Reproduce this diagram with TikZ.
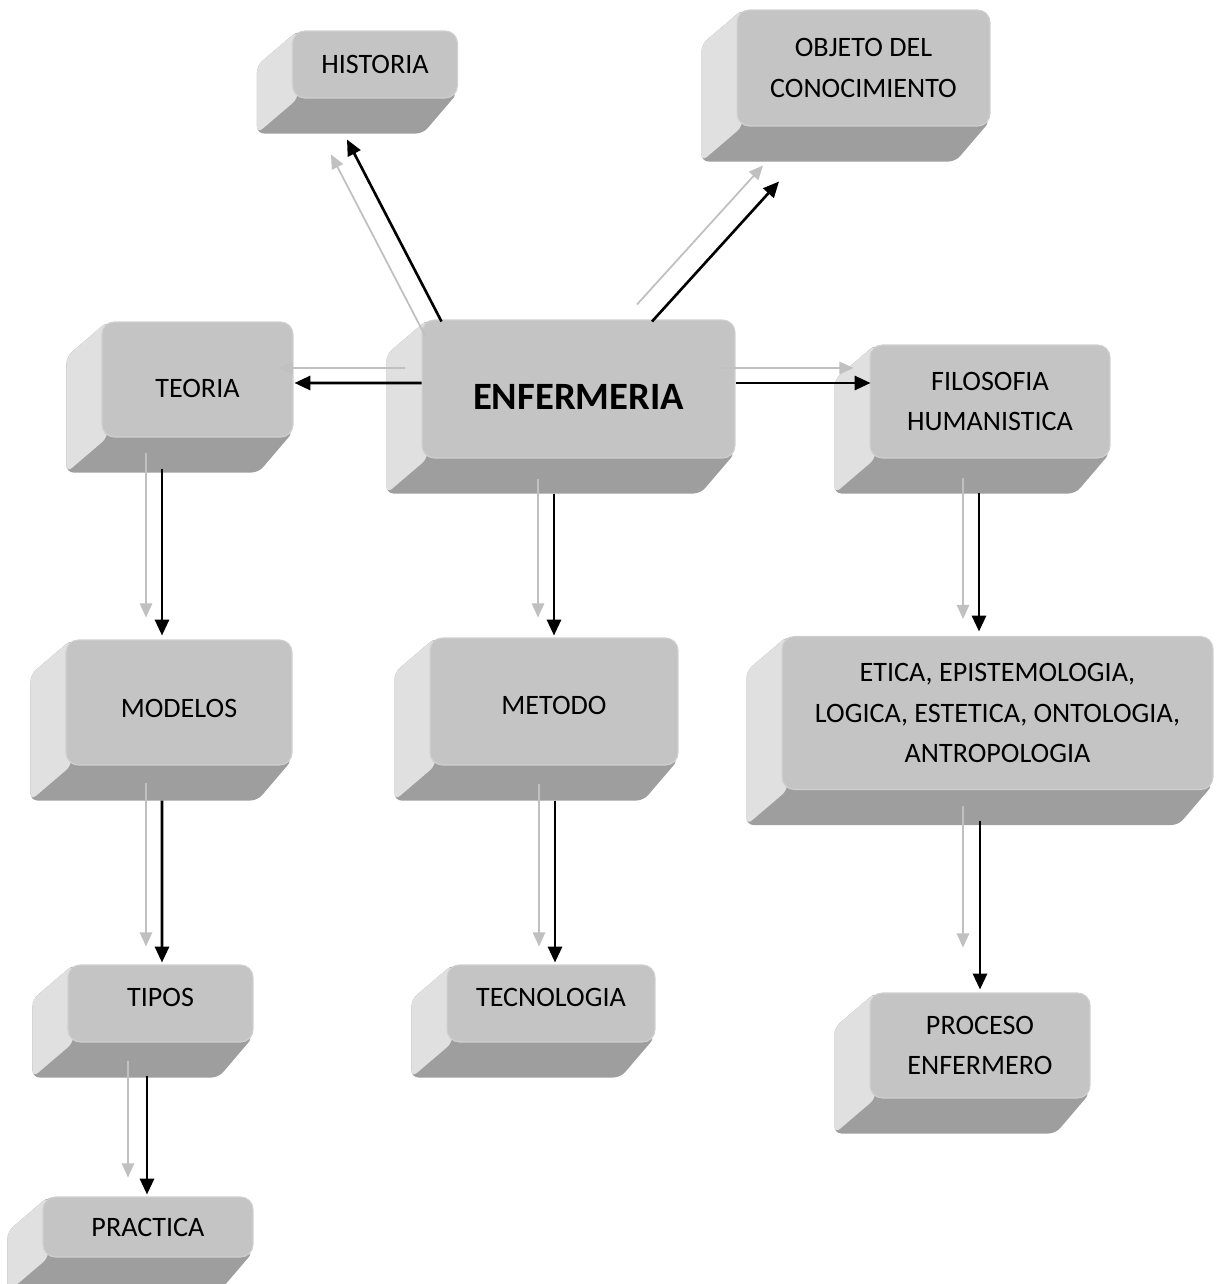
\documentclass[tikz,border=0pt]{standalone}
\usepackage{fontspec}
\setmainfont{Carlito}
\usepackage{tikz}
\usetikzlibrary{positioning, arrows.meta, backgrounds, calc}

\definecolor{cara}{HTML}{C4C4C4}
\definecolor{borde}{HTML}{D0D0D0}
\definecolor{ladoclaro}{HTML}{E0E0E0}
\definecolor{ladobajo}{HTML}{9E9E9E}
\definecolor{grisflecha}{HTML}{C0C0C0}

\begin{document}
\begin{tikzpicture}[
  x=0.02cm, y=-0.02cm,
  font=\fontsize{16}{23}\selectfont,
  tecla/.style={draw=borde, line width=0.6pt, fill=cara, rounded corners=7pt, align=center, inner sep=0pt},
  bajar/.style={text height=#1, text depth=0pt},
  subir/.style={text height=10.1pt, text depth=#1},
  caraizq/.style={fill=ladoclaro, rounded corners=4pt},
  carabase/.style={fill=ladobajo, rounded corners=4pt},
  arr/.style={-{Triangle[length=9pt, width=8pt]}, line width=1.5pt, black},
  arrgris/.style={-{Triangle[length=8pt, width=7pt]}, line width=1pt, grisflecha}
]
  \useasboundingbox (0,0) rectangle (1222,1284);

  % Nodo central
  \node[tecla, bajar=22.9pt, minimum width=6.26cm, minimum height=2.76cm, font=\fontsize{22}{26}\selectfont\bfseries]
    (enfermeria) at (578.5, 389) {ENFERMERIA};

  % Fila superior
  \node[tecla, minimum width=3.3cm, minimum height=1.34cm] (historia) at (375, 64.5) {HISTORIA};
  \node[tecla, minimum width=5.06cm, minimum height=2.32cm] (objeto) at (863.5, 68)
    {OBJETO DEL\\CONOCIMIENTO};

  % A los lados
  \node[tecla, bajar=20.3pt, minimum width=3.82cm, minimum height=2.3cm] (teoria) at (197.5, 379.5) {TEORIA};
  \node[tecla, minimum width=4.8cm, minimum height=2.26cm] (filosofia) at (990, 401.5)
    {FILOSOFIA\\HUMANISTICA};

  % Segunda fila
  \node[tecla, bajar=16.9pt, minimum width=4.52cm, minimum height=2.5cm] (modelos) at (179, 702.5) {MODELOS};
  \node[tecla, bajar=14.7pt, minimum width=4.96cm, minimum height=2.54cm] (metodo) at (554, 701.5) {METODO};
  \node[tecla, minimum width=8.62cm, minimum height=3.06cm] (etica) at (997.5, 713)
    {ETICA, EPISTEMOLOGIA,\\LOGICA, ESTETICA, ONTOLOGIA,\\ANTROPOLOGIA};

  % Tercera fila
  \node[tecla, subir=6.8pt, minimum width=3.7cm, minimum height=1.54cm] (tipos) at (160.5, 1003.5) {TIPOS};
  \node[tecla, subir=6.8pt, minimum width=4.16cm, minimum height=1.54cm] (tecnologia) at (551, 1003.5) {TECNOLOGIA};
  \node[tecla, minimum width=4.4cm, minimum height=2.1cm] (proceso) at (980, 1045.5)
    {PROCESO\\ENFERMERO};

  % Abajo
  \node[tecla, minimum width=4.2cm, minimum height=1.2cm] (practica) at (148, 1227) {PRACTICA};

  % Relieve de las teclas
  \begin{scope}[on background layer]
    \fill[white] (0,0) rectangle (1222,1284);
    \foreach \n in {historia, objeto, teoria, enfermeria, filosofia, modelos, metodo, etica,
                    tipos, tecnologia, proceso, practica} {
      \fill[carabase] ([shift={(6,0)}]\n.north west) -- ([shift={(-35,35)}]\n.north west)
        -- ([shift={(-35,35)}]\n.south west) -- ([shift={(-35,35)}]\n.south east)
        -- ([shift={(0,-6)}]\n.south east) -- cycle;
      \fill[caraizq] ([shift={(6,0)}]\n.north west) -- ([shift={(-35,35)}]\n.north west)
        -- ([shift={(-35,35)}]\n.south west) -- ([shift={(6,0)}]\n.south west) -- cycle;
    }
  \end{scope}

  % Flechas grises
  \draw[arrgris] ([shift={(4,17)}]enfermeria.north west) -- ([shift={(-44,56)}]historia.south);
  \draw[arrgris] ([shift={(58.5,-15)}]enfermeria.north) -- ([shift={(-100.5,39)}]objeto.south);
  \draw[arrgris] ([shift={(-17,-21)}]enfermeria.west) -- ([shift={(-15,-11.5)}]teoria.east);
  \draw[arrgris] ([shift={(-17,-21)}]enfermeria.east) -- ([shift={(-16,-33.5)}]filosofia.west);
  \draw[arrgris] ([shift={(-40.5,20)}]enfermeria.south) -- ([shift={(-16,-20)}]metodo.north);
  \draw[arrgris] ([shift={(-51.5,15)}]teoria.south) -- ([shift={(-33,-22)}]modelos.north);
  \draw[arrgris] ([shift={(-27,19)}]filosofia.south) -- ([shift={(-34.5,-17)}]etica.north);
  \draw[arrgris] ([shift={(-33,17)}]modelos.south) -- ([shift={(-14.5,-18)}]tipos.north);
  \draw[arrgris] ([shift={(-15,18)}]metodo.south) -- ([shift={(-12,-18)}]tecnologia.north);
  \draw[arrgris] ([shift={(-34.5,16)}]etica.south) -- ([shift={(-17,-45)}]proceso.north);
  \draw[arrgris] ([shift={(-32.5,18)}]tipos.south) -- ([shift={(-20,-19)}]practica.north);

  % Flechas negras
  \draw[arr] ([shift={(20,2)}]enfermeria.north west) -- ([shift={(-28,41)}]historia.south);
  \draw[arr] ([shift={(73.5,2)}]enfermeria.north) -- ([shift={(-84.5,55)}]objeto.south);
  \draw[arr] ([shift={(0,-6)}]enfermeria.west) -- ([shift={(1,3.5)}]teoria.east);
  \draw[arr] ([shift={(0,-6)}]enfermeria.east) -- ([shift={(1,-18.5)}]filosofia.west);
  \draw[arr] ([shift={(-24.5,35)}]enfermeria.south) -- ([shift={(0,-2)}]metodo.north);
  \draw[arr] ([shift={(-35.5,31)}]teoria.south) -- ([shift={(-17,-4)}]modelos.north);
  \draw[arr] ([shift={(-11,34)}]filosofia.south) -- ([shift={(-18.5,-4.5)}]etica.north);
  \draw[arr] ([shift={(-17,35)}]modelos.south) -- ([shift={(1.5,-2)}]tipos.north);
  \draw[arr] ([shift={(1,35)}]metodo.south) -- ([shift={(4,-2)}]tecnologia.north);
  \draw[arr] ([shift={(-17.5,30.5)}]etica.south) -- ([shift={(0,-3)}]proceso.north);
  \draw[arr] ([shift={(-13.5,33)}]tipos.south) -- ([shift={(-1,-2)}]practica.north);
\end{tikzpicture}
\end{document}
